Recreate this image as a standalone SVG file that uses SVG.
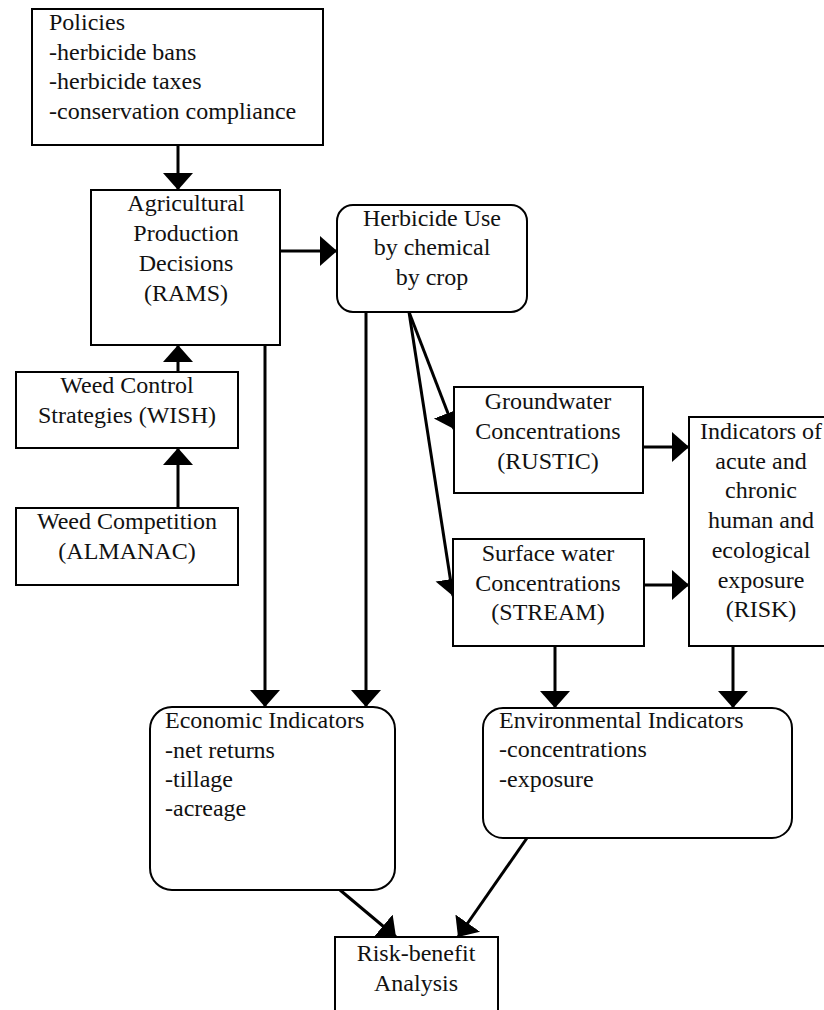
<svg xmlns="http://www.w3.org/2000/svg" width="824" height="1010" viewBox="0 0 824 1010">
<style>
.box{fill:#fff;stroke:#000;stroke-width:2}
.t{font-family:"Liberation Serif","Times New Roman",serif;font-size:24px;fill:#111}
.c{text-anchor:middle}
.conn{stroke:#000;stroke-width:3;fill:none;marker-end:url(#ah)}
</style>
<defs>
<marker id="ah" markerUnits="userSpaceOnUse" viewBox="0 -16 18 32" markerWidth="18" markerHeight="32" refX="17" refY="0" orient="auto">
<path d="M0,-15 L17,0 L0,15 z" fill="#000"/>
</marker>
</defs>
<rect width="824" height="1010" fill="#fff"/>
<g id="connectors">
<line class="conn" x1="178" y1="145" x2="178" y2="190"/>
<line class="conn" x1="280" y1="251" x2="337" y2="251"/>
<line class="conn" x1="178" y1="372" x2="178" y2="345"/>
<line class="conn" x1="178" y1="508" x2="178" y2="448"/>
<line class="conn" x1="265" y1="345" x2="265" y2="707"/>
<line class="conn" x1="366" y1="312" x2="366" y2="707"/>
<line class="conn" x1="409" y1="312" x2="454" y2="429"/>
<line class="conn" x1="409" y1="312" x2="453" y2="596"/>
<line class="conn" x1="643" y1="447" x2="689" y2="447"/>
<line class="conn" x1="644" y1="585" x2="689" y2="585"/>
<line class="conn" x1="555" y1="646" x2="555" y2="708"/>
<line class="conn" x1="733" y1="646" x2="733" y2="708"/>
<line class="conn" x1="340" y1="890" x2="396" y2="937"/>
<line class="conn" x1="527" y1="838" x2="458" y2="937"/>
</g>
<g id="policies">
<rect class="box" x="32" y="9" width="291" height="136"/>
<text class="t" x="49" y="30">Policies</text>
<text class="t" x="49" y="60">-herbicide bans</text>
<text class="t" x="49" y="89">-herbicide taxes</text>
<text class="t" x="49" y="119">-conservation compliance</text>
</g>
<g id="agri">
<rect class="box" x="91" y="190" width="189" height="155"/>
<text class="t c" x="186" y="211">Agricultural</text>
<text class="t c" x="186" y="241">Production</text>
<text class="t c" x="186" y="271">Decisions</text>
<text class="t c" x="186" y="301">(RAMS)</text>
</g>
<g id="herbicide">
<rect class="box" x="337" y="205" width="190" height="107" rx="16"/>
<text class="t c" x="432" y="226">Herbicide Use</text>
<text class="t c" x="432" y="255">by chemical</text>
<text class="t c" x="432" y="285">by crop</text>
</g>
<g id="wish">
<rect class="box" x="16" y="372" width="222" height="76"/>
<text class="t c" x="127" y="393">Weed Control</text>
<text class="t c" x="127" y="423">Strategies (WISH)</text>
</g>
<g id="almanac">
<rect class="box" x="16" y="508" width="222" height="77"/>
<text class="t c" x="127" y="529">Weed Competition</text>
<text class="t c" x="127" y="559">(ALMANAC)</text>
</g>
<g id="groundwater">
<rect class="box" x="454" y="387" width="189" height="106"/>
<text class="t c" x="548" y="409">Groundwater</text>
<text class="t c" x="548" y="439">Concentrations</text>
<text class="t c" x="548" y="469">(RUSTIC)</text>
</g>
<g id="surface">
<rect class="box" x="453" y="539" width="191" height="107"/>
<text class="t c" x="548" y="561">Surface water</text>
<text class="t c" x="548" y="591">Concentrations</text>
<text class="t c" x="548" y="620">(STREAM)</text>
</g>
<g id="risk">
<rect class="box" x="689" y="417" width="145" height="229"/>
<text class="t c" x="761" y="439">Indicators of</text>
<text class="t c" x="761" y="469">acute and</text>
<text class="t c" x="761" y="498">chronic</text>
<text class="t c" x="761" y="528">human and</text>
<text class="t c" x="761" y="558">ecological</text>
<text class="t c" x="761" y="588">exposure</text>
<text class="t c" x="761" y="617">(RISK)</text>
</g>
<g id="economic">
<rect class="box" x="150" y="707" width="245" height="183" rx="22"/>
<text class="t" x="165" y="728">Economic Indicators</text>
<text class="t" x="165" y="758">-net returns</text>
<text class="t" x="165" y="787">-tillage</text>
<text class="t" x="165" y="816">-acreage</text>
</g>
<g id="environmental">
<rect class="box" x="483" y="708" width="309" height="130" rx="20"/>
<text class="t" x="499" y="728">Environmental Indicators</text>
<text class="t" x="499" y="757">-concentrations</text>
<text class="t" x="499" y="787">-exposure</text>
</g>
<g id="riskbenefit">
<rect class="box" x="335" y="937" width="163" height="90"/>
<text class="t c" x="416" y="961">Risk-benefit</text>
<text class="t c" x="416" y="991">Analysis</text>
</g>
</svg>
